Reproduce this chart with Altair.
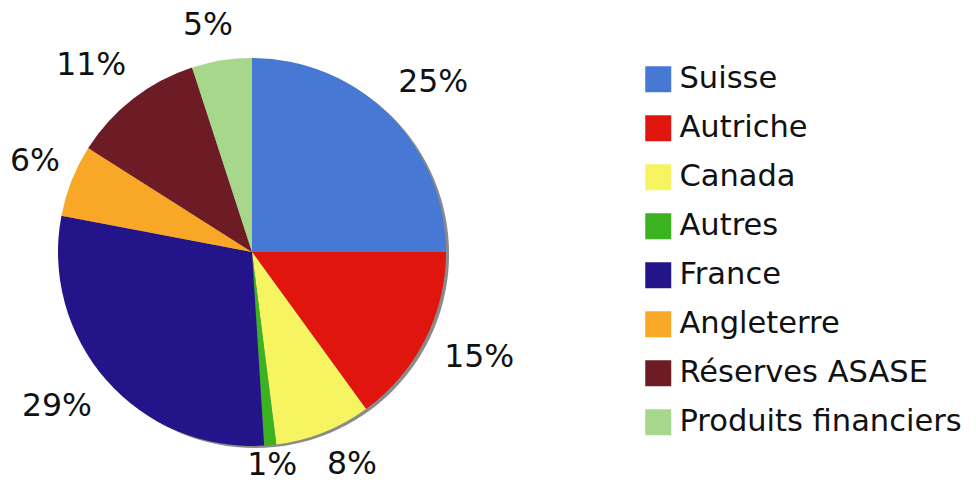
import math
import altair as alt
import pandas as pd

# ---- data ----
categories = ["Suisse", "Autriche", "Canada", "Autres", "France",
              "Angleterre", "Réserves ASASE", "Produits financiers"]
values = [25, 15, 8, 1, 29, 6, 11, 5]
colors = ["#4778d4", "#e0160e", "#f7f462", "#3bb320", "#24148a",
          "#f8a726", "#6d1c26", "#a7d78b"]

# ---- layout ----
W, H = 960, 475
CX, CY = 244, 244
R = 194
FS = 31.5
LEG_FS = 30.5
# small angular nudges (degrees) for the percentage labels, as placed in the original
label_nudge = [2, -2, -3.5, 0, 3, 1, -3, -2]

df = pd.DataFrame({"pays": categories, "part": values, "ordre": list(range(len(values)))})
df["label"] = [f"{v}%" for v in values]

# label placement: mid-angle of each slice, radius just outside the rim,
# pushed out by half the text box in that direction, kept inside the canvas
cum = df["part"].cumsum() - df["part"] / 2
mids = cum / df["part"].sum() * 2 * math.pi + pd.Series(label_nudge).map(math.radians)
hw = [0.5 * FS * (0.636 * (len(t) - 1) + 0.95) for t in df["label"]]
hh = 12
edge = 17
radii = []
for a, w in zip(mids, hw):
    r = 214 + abs(math.sin(a)) * w + abs(math.cos(a)) * hh
    # keep inside the drawing area
    if math.sin(a) < 0:
        r = min(r, (CX - w - 2) / -math.sin(a))
    if math.cos(a) < 0:
        r = min(r, (H - CY - edge) / -math.cos(a))
    if math.cos(a) > 0:
        r = min(r, (CY - edge) / math.cos(a))
    radii.append(r)
df["mid"] = list(mids)
df["lr"] = radii

color_scale = alt.Scale(domain=categories, range=colors)

shadow = alt.Chart(pd.DataFrame({"s": [1]})).mark_arc(
    radius=R, theta=0, theta2=2 * math.pi, color="#8a8a8a"
).encode(x=alt.value(CX + 3), y=alt.value(CY + 2))

pie = alt.Chart(df).mark_arc(radius=R).encode(
    theta=alt.Theta("part:Q", stack=True),
    order=alt.Order("ordre:Q"),
    x=alt.value(CX), y=alt.value(CY),
    color=alt.Color(
        "pays:N", scale=color_scale,
        legend=alt.Legend(
            title=None, orient="none", legendX=635, legendY=56,
            symbolType="square", symbolSize=676, symbolStrokeWidth=0,
            labelFontSize=LEG_FS, labelFont="DejaVu Sans", labelColor="#111",
            labelLimit=400, rowPadding=18, labelOffset=6,
        ),
    ),
)

labels = alt.Chart(df).mark_text(
    font="DejaVu Sans", fontSize=FS, color="#111", align="center", baseline="middle"
).encode(
    x=alt.value(CX), y=alt.value(CY),
    theta=alt.Theta("mid:Q", scale=None),
    radius=alt.Radius("lr:Q", scale=None),
    text="label:N",
)

chart = alt.layer(shadow, pie, labels).resolve_scale(theta="independent").properties(
    width=W, height=H, padding=0, autosize=alt.AutoSizeParams(type="none")
).configure_view(stroke=None)

chart.save("out.html", embed_options={"renderer": "svg", "actions": False})
